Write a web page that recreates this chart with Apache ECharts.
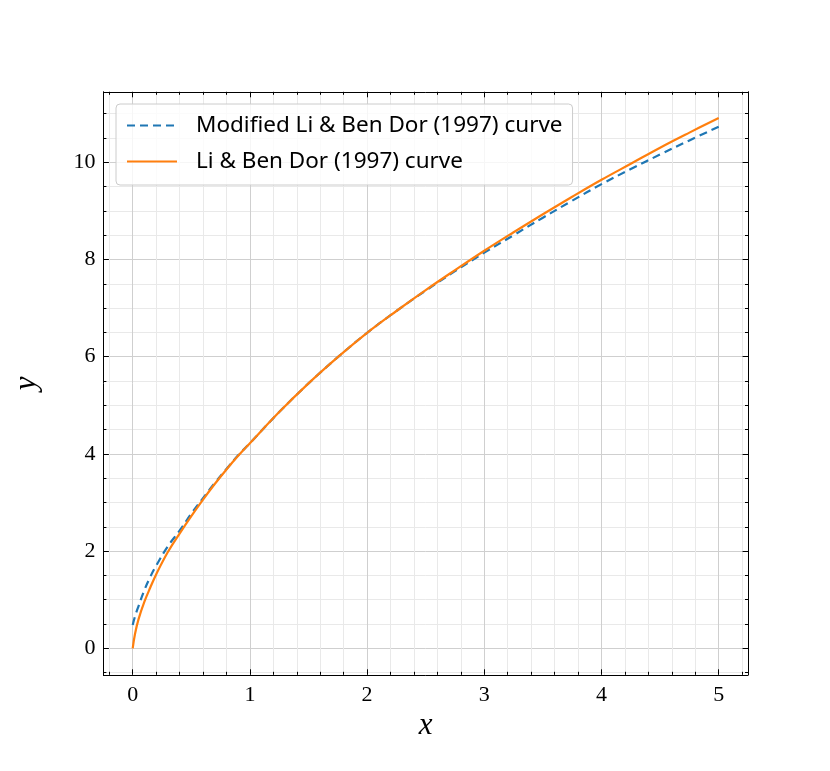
<!DOCTYPE html>
<html><head><meta charset="utf-8">
<script src="https://cdn.jsdelivr.net/npm/echarts@6/dist/echarts.min.js"></script>
<style>html,body{margin:0;padding:0;background:#fff}#c{width:830px;height:771px}</style>
</head><body><div id="c"></div>
<script>
const xValues = [0, 0.02, 0.05, 0.1, 0.15, 0.2, 0.3, 0.4, 0.5, 0.6, 0.7, 0.8, 0.9, 1.0, 1.25, 1.5, 1.75, 2.0, 2.25, 2.5, 2.75, 3.0, 3.25, 3.5, 3.75, 4.0, 4.25, 4.5, 4.75, 5.0];
const modifiedY = [0.48, 0.66, 0.87, 1.2, 1.47, 1.7, 2.1, 2.42, 2.77, 3.09, 3.4, 3.69, 3.97, 4.22, 4.86, 5.45, 5.99, 6.49, 6.94, 7.36, 7.76, 8.14, 8.5, 8.86, 9.21, 9.55, 9.86, 10.16, 10.45, 10.73];
const originalY = [0, 0.3, 0.6, 0.96, 1.25, 1.52, 1.98, 2.36, 2.72, 3.06, 3.38, 3.68, 3.96, 4.22, 4.86, 5.45, 5.99, 6.49, 6.94, 7.37, 7.78, 8.18, 8.56, 8.93, 9.29, 9.64, 9.97, 10.3, 10.61, 10.91];
const xTickLabels = ['0', '1', '2', '3', '4', '5'];
const yTickLabels = ['0', '2', '4', '6', '8', '10'];
const seriesNames = ['Modified Li & Ben Dor (1997) curve', 'Li & Ben Dor (1997) curve'];

const serif = 'Liberation Serif';
function fmt(labels) {
  return function (v) {
    const s = String(Math.round(v * 1000) / 1000);
    return labels.indexOf(s) >= 0 ? s : '';
  };
}
function axisCommon(extra) {
  return Object.assign({
    type: 'value',
    axisLine: { show: true, onZero: false, lineStyle: { color: '#000', width: 1 } },
    axisTick: { show: true, inside: true, length: 5.5, lineStyle: { color: '#000', width: 1 } },
    minorTick: { show: true, length: 3, lineStyle: { color: '#000', width: 1 } },
  }, extra);
}
const xBase = { min: -0.25, max: 5.25, minInterval: 1, maxInterval: 1 };
const yBase = { min: -0.545, max: 11.45, minInterval: 2, maxInterval: 2 };

const chart = echarts.init(document.getElementById('c'), null, { renderer: 'canvas' });
chart.setOption({
  animation: false,
  backgroundColor: '#fff',
  grid: { left: 103.4, right: 82, top: 91.8, bottom: 96.2, containLabel: false },
  xAxis: [
    axisCommon(Object.assign({}, xBase, {
      position: 'bottom',
      name: 'x', nameLocation: 'middle', nameGap: 31,
      nameTextStyle: { fontFamily: serif, fontStyle: 'italic', fontSize: 31, color: '#000' },
      minorTick: { show: true, splitNumber: 5, length: 3, lineStyle: { color: '#000', width: 1 } },
      splitLine: { show: true, lineStyle: { color: '#cfcfcf', width: 1 } },
      minorSplitLine: { show: true, lineStyle: { color: '#e9e9e9', width: 1 } },
      axisLabel: { interval: 0, margin: 9, fontFamily: serif, fontSize: 22, color: '#000', formatter: fmt(xTickLabels) }
    })),
    axisCommon(Object.assign({}, xBase, {
      position: 'top',
      minorTick: { show: true, splitNumber: 5, length: 3, lineStyle: { color: '#000', width: 1 } },
      splitLine: { show: false }, minorSplitLine: { show: false },
      axisLabel: { show: false }
    }))
  ],
  yAxis: [
    axisCommon(Object.assign({}, yBase, {
      position: 'left',
      name: 'y', nameLocation: 'middle', nameGap: 61, nameRotate: 90,
      nameTextStyle: { fontFamily: serif, fontStyle: 'italic', fontSize: 31, color: '#000' },
      minorTick: { show: true, splitNumber: 4, length: 3, lineStyle: { color: '#000', width: 1 } },
      splitLine: { show: true, lineStyle: { color: '#cfcfcf', width: 1 } },
      minorSplitLine: { show: true, lineStyle: { color: '#e9e9e9', width: 1 } },
      axisLabel: { interval: 0, margin: 8, fontFamily: serif, fontSize: 22, color: '#000', formatter: fmt(yTickLabels) }
    })),
    axisCommon(Object.assign({}, yBase, {
      position: 'right',
      minorTick: { show: true, splitNumber: 4, length: 3, lineStyle: { color: '#000', width: 1 } },
      splitLine: { show: false }, minorSplitLine: { show: false },
      axisLabel: { show: false }
    }))
  ],
  legend: {
    orient: 'vertical', left: 116, top: 104,
    padding: [10, 10, 12, 10],
    itemWidth: 50, itemHeight: 14, itemGap: 13,
    backgroundColor: 'rgba(255,255,255,0.8)',
    borderColor: '#cccccc', borderWidth: 1, borderRadius: 4,
    itemStyle: { color: 'transparent', borderWidth: 0, opacity: 0 },
    textStyle: { fontFamily: 'Noto Sans', fontSize: 22.5, color: '#000', padding: [0, 0, 0, 14] },
    data: seriesNames
  },
  series: [
    {
      name: seriesNames[0], type: 'line', xAxisIndex: 0, yAxisIndex: 0,
      data: xValues.map((x, i) => [x, modifiedY[i]]),
      symbol: 'none', smooth: 0.4,
      lineStyle: { color: '#1f77b4', width: 2.2, type: [8, 5] },
      itemStyle: { color: '#1f77b4' }, z: 2
    },
    {
      name: seriesNames[1], type: 'line', xAxisIndex: 0, yAxisIndex: 0,
      data: xValues.map((x, i) => [x, originalY[i]]),
      symbol: 'none', smooth: 0.4,
      lineStyle: { color: '#ff7f0e', width: 2.2, type: 'solid' },
      itemStyle: { color: '#ff7f0e' }, z: 3
    }
  ]
});
</script></body></html>
